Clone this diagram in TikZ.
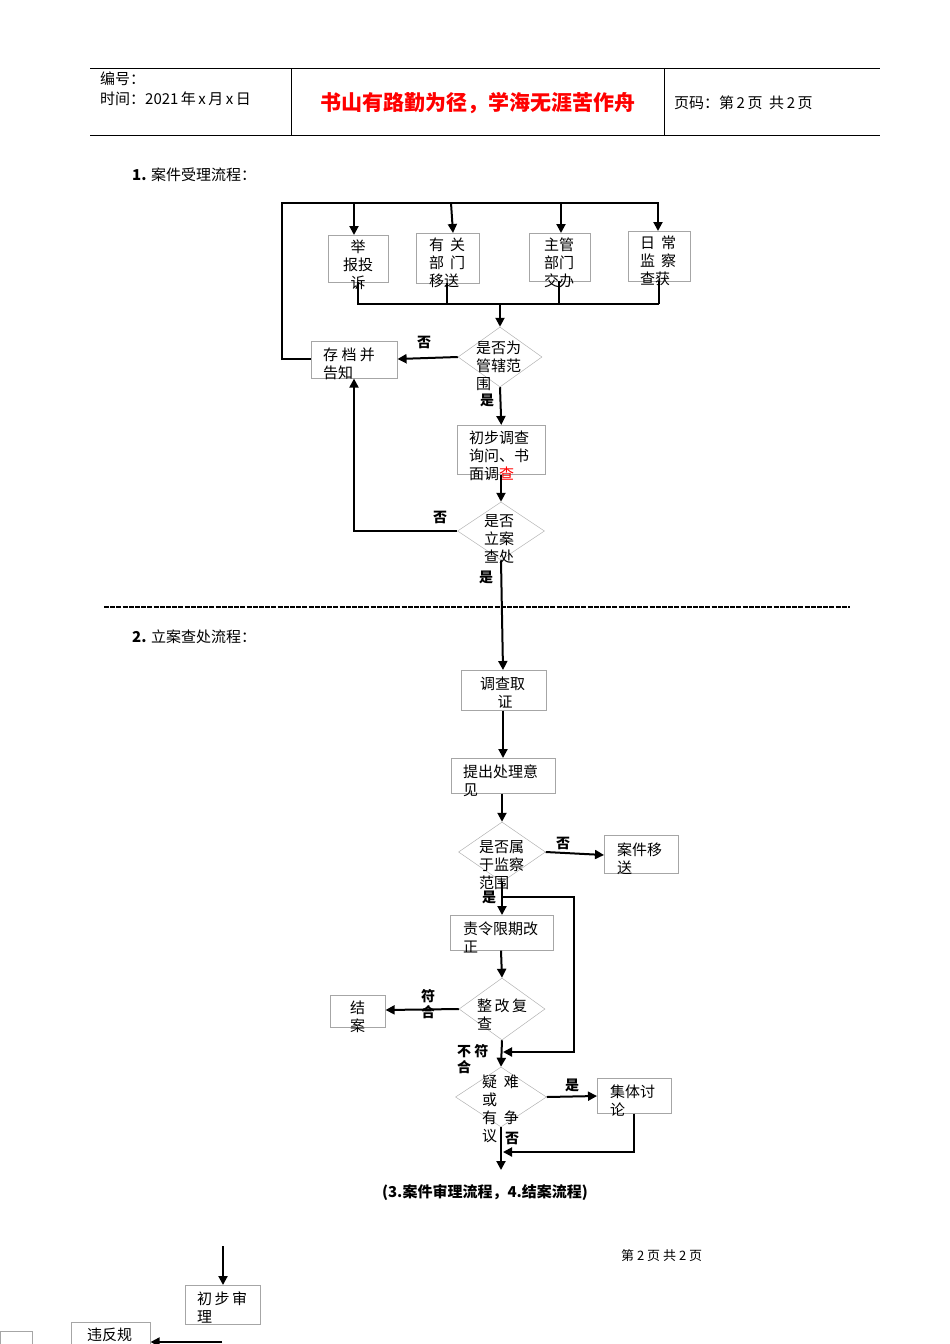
\documentclass[tikz,border=0pt]{standalone}
\usepackage{fontspec}
\setmainfont{Noto Sans CJK SC}
\usetikzlibrary{arrows.meta,shapes.geometric}
\begin{document}
\begin{tikzpicture}[x=1pt,y=-1pt,
 box/.style={draw=gray!70,line width=0.6pt,inner sep=0,anchor=north west},
 dia/.style={diamond,draw=gray!60,line width=0.5pt,inner sep=0},
 arr/.style={-{Triangle[length=9pt,width=9pt]},line width=2pt},
 ln/.style={line width=2pt},
 txt/.style={font=\fontsize{15}{18}\selectfont,inner sep=0,anchor=north west,align=left},
 lab/.style={font=\fontsize{14}{16}\selectfont\bfseries,inner sep=0}]
\useasboundingbox (0,0) rectangle (950,1344);
% header
\draw[line width=0.6pt] (90,68)--(880,68) (90,135)--(880,135) (291,68)--(291,135) (664,68)--(664,135);
\node[txt,font=\fontsize{15}{20}\selectfont] (h1) at (100,72) {编号：\\时间：2021\,年\,x\,月\,x\,日};
\node[inner sep=0,font=\fontsize{21}{24}\selectfont\bfseries,text=red] (h2) at (478,103) {书山有路勤为径，学海无涯苦作舟};
\node[inner sep=0,font=\fontsize{15}{20}\selectfont,anchor=west] (h3) at (674,103) {页码：第\,2\,页\ \ 共\,2\,页};
\node[inner sep=0,font=\fontsize{15}{20}\selectfont,anchor=west] (s1) at (132,175) {\textbf{1.} 案件受理流程：};
\node[inner sep=0,font=\fontsize{15}{20}\selectfont,anchor=west] (s2) at (132,637) {\textbf{2.} 立案查处流程：};
\draw[line width=2.6pt,dash pattern=on 5pt off 1.2pt] (104,607)--(850,607);
% top boxes
\node[box,minimum width=60,minimum height=47] (b1) at (328,235) {};
\node[box,minimum width=63,minimum height=50] (b2) at (416,233) {};
\node[box,minimum width=61,minimum height=48] (b3) at (529,233) {};
\node[box,minimum width=62,minimum height=50] (b4) at (628,231) {};
\node[txt,text width=44,align=center] at (336,240) {举\\报投\\诉};
\node[txt] at (429,238) {有\ \,关\\部\ \,门\\移送};
\node[txt] at (544,238) {主管\\部门\\交办};
\node[txt] at (640,236) {日\ \,常\\监\ \,察\\查获};
\coordinate (top) at (282,203);
\draw[ln] (282,360)--(top)--(659,203);
\draw[arr] (354,203)--(b1.north-|354,0);
\draw[arr] (451,203)--(453,233);
\draw[arr] (561,203)--(b3.north-|561,0);
\draw[arr] (658,203)--(b4.north-|658,0);
\draw[ln] (358,282)--(358,304)--(659,304) (447,283)--(447,304) (559,281)--(559,304) (659,281)--(659,304);
% diamond 1
\node[dia,minimum width=84,minimum height=60] (d1) at (500,357) {};
\node[txt] at (476,341) {是否为\\管辖范\\围};
\draw[arr] (500,304)--(d1.north);
\node[box,minimum width=86,minimum height=37] (b5) at (311,341) {};
\node[txt] at (323,348) {存\ 档\ 并\\告知};
\draw[ln] (282,359)--(b5.west|-0,359);
\draw[arr] (d1.west)--(b5.east|-0,359);
\node[lab] at (424,342) {否};
\node[lab] at (487,400) {是};
\node[box,minimum width=88,minimum height=49] (b6) at (457,425) {};
\draw[arr] (d1.south)--(b6.north);
\node[txt] at (469,431) {初步调查\\询问、书\\面调\textcolor{red}{查}};
\node[dia,minimum width=87,minimum height=58] (d2) at (501,531) {};
\node[txt] at (484,514) {是否\\立案\\查处};
\draw[arr] (b6.south-|501,0)--(d2.north);
\draw[arr] (d2.west)--(354,531)--(b5.south-|354,0);
\node[lab] at (440,517) {否};
\node[lab] at (486,577) {是};
\node[box,minimum width=85,minimum height=40] (b7) at (461,670) {};
\draw[arr] (d2.south)--(b7.north-|503,0);
\node[txt] at (480,677) {调查取\\\,\,\,\,\,\,\,证};
\node[box,minimum width=104,minimum height=35] (b8) at (451,758) {};
\node[txt] at (463,765) {提出处理意\\见};
\draw[arr] (b7.south-|503,0)--(b8.north-|503,0);
\node[dia,minimum width=87,minimum height=60] (d3) at (502,852) {};
\node[txt] at (479,840) {是否属\\于监察\\范围};
\draw[arr] (b8.south-|502,0)--(d3.north);
\node[box,minimum width=74,minimum height=38] (b9) at (604,835) {};
\node[txt] at (617,843) {案件移\\送};
\draw[arr] (d3.east)--(b9.west|-0,855);
\node[lab] at (563,843) {否};
\node[box,minimum width=103,minimum height=35] (b10) at (450,915) {};
\node[txt] at (463,922) {责令限期改\\正};
\draw[arr] (d3.south)--(b10.north-|502,0);
\node[lab] at (489,897) {是};
\node[dia,minimum width=86,minimum height=62] (d4) at (502,1009) {};
\node[txt] at (477,999) {整\,改\,复\\查};
\draw[arr] (b10.south-|501,0)--(d4.north);
\node[box,minimum width=55,minimum height=32] (b11) at (330,995) {};
\node[txt] at (350,1001) {结\\案};
\draw[arr] (d4.west)--(b11.east|-0,1010);
\node[lab,align=center] at (428,1004) {符\\合};
\node[dia,minimum width=91,minimum height=60] (d5) at (501,1097) {};
\node[txt] at (482,1075) {疑\ \ 难\\或\\有\ \ 争\\议};
\draw[arr] (d4.south)--(d5.north);
\draw[arr] (502,897)--(574,897)--(574,1052)--(503,1052);
\node[lab,anchor=north west,align=left] at (457,1044) {不\ 符\\合};
\node[box,minimum width=74,minimum height=35] (b12) at (597,1078) {};
\node[txt] at (610,1085) {集体讨\\论};
\draw[arr] (d5.east)--(b12.west|-0,1096);
\node[lab] at (572,1085) {是};
\coordinate (e1) at (501,1170);
\draw[arr] (d5.south)--(e1);
\draw[arr] (b12.south-|634,0)--(634,1152)--(503,1152);
\node[lab] at (512,1138) {否};
\node[inner sep=0,font=\fontsize{15}{18}\selectfont\bfseries] (cap) at (485,1192) {(3.案件审理流程，4.结案流程)};
\node[inner sep=0,font=\fontsize{13}{14}\selectfont,anchor=west] (pg) at (621,1256) {第\ 2\ 页\ 共\ 2\ 页};
% bottom fragment
\coordinate (s3) at (223,1246);
\node[box,minimum width=75,minimum height=39] (b13) at (185,1285) {};
\node[txt] at (197,1292) {初\,步\,审\\理};
\draw[arr] (s3)--(b13.north-|223,0);
\node[box,minimum width=79,minimum height=40] (b14) at (71,1322) {};
\node[txt] at (87,1328) {违反规};
\draw[arr] (222,1342)--(b14.east|-0,1342);
\node[box,minimum width=32,minimum height=30] (b15) at (0,1331) {};
\end{tikzpicture}
\end{document}
